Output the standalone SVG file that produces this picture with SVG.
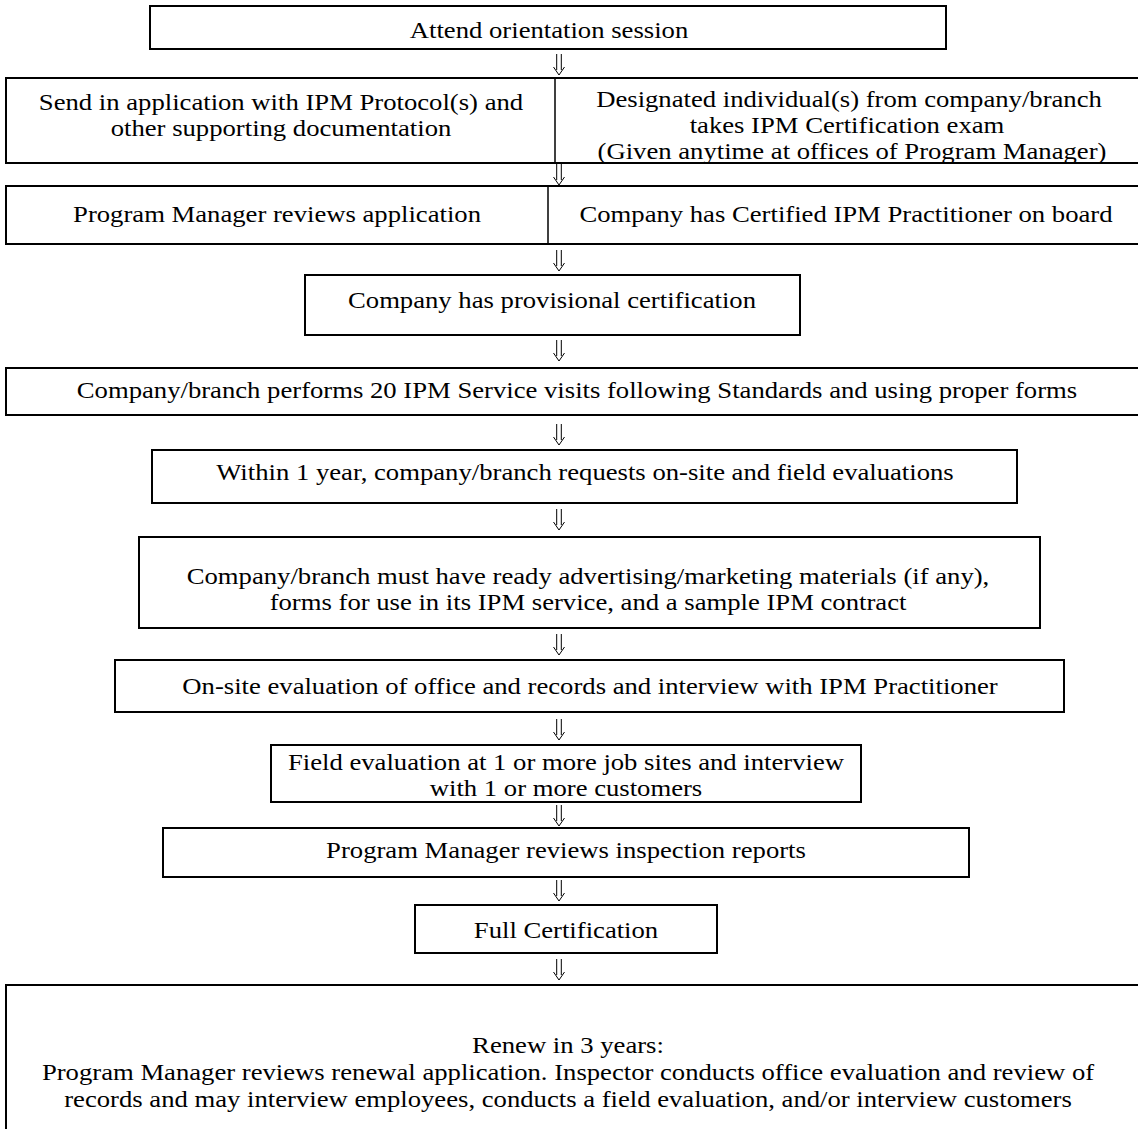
<svg xmlns="http://www.w3.org/2000/svg" xmlns:xlink="http://www.w3.org/1999/xlink" width="1138" height="1129" viewBox="0 0 1138 1129">
<style>
.box{fill:#fff;stroke:#000;stroke-width:2}
.div{stroke:#000;stroke-width:1.5}
.t{font-family:"Liberation Serif","Times New Roman",serif;font-size:23.5px;fill:#000;text-anchor:middle}
.arr{fill:none;stroke:#000;stroke-width:1}
</style>
<defs>
<path id="dArrow" class="arr" d="M-2.3,0 V16 M2.3,0 V16 M-5.5,13 L0,21 L5.5,13"/>
</defs>
<rect width="1138" height="1129" fill="#fff"/>
<g id="connectors">
<use xlink:href="#dArrow" x="559" y="54"/>
<use xlink:href="#dArrow" x="559" y="164"/>
<use xlink:href="#dArrow" x="559" y="250"/>
<use xlink:href="#dArrow" x="559" y="340"/>
<use xlink:href="#dArrow" x="559" y="424"/>
<use xlink:href="#dArrow" x="559" y="509"/>
<use xlink:href="#dArrow" x="559" y="634"/>
<use xlink:href="#dArrow" x="559" y="719"/>
<use xlink:href="#dArrow" x="559" y="805"/>
<use xlink:href="#dArrow" x="559" y="880"/>
<use xlink:href="#dArrow" x="559" y="959"/>
</g>
<g id="n1">
<rect class="box" x="150" y="6" width="796" height="43"/>
<text class="t" transform="translate(549,38) scale(1.135,1)">Attend orientation session</text>
</g>
<g id="n2">
<rect class="box" x="6" y="78" width="1134" height="85"/>
<line class="div" x1="555" y1="78" x2="555" y2="163"/>
<text class="t" transform="translate(281,110) scale(1.135,1)">Send in application with IPM Protocol(s) and</text>
<text class="t" transform="translate(281,136) scale(1.135,1)">other supporting documentation</text>
<text class="t" transform="translate(849,107) scale(1.135,1)">Designated individual(s) from company/branch</text>
<text class="t" transform="translate(847,133) scale(1.135,1)">takes IPM Certification exam</text>
<text class="t" transform="translate(852,158.5) scale(1.135,1)">(Given anytime at offices of Program Manager)</text>
</g>
<g id="n3">
<rect class="box" x="6" y="186" width="1134" height="58"/>
<line class="div" x1="548" y1="186" x2="548" y2="244"/>
<text class="t" transform="translate(277,222) scale(1.135,1)">Program Manager reviews application</text>
<text class="t" transform="translate(846,222) scale(1.135,1)">Company has Certified IPM Practitioner on board</text>
</g>
<g id="n4">
<rect class="box" x="305" y="275" width="495" height="60"/>
<text class="t" transform="translate(552,308) scale(1.135,1)">Company has provisional certification</text>
</g>
<g id="n5">
<rect class="box" x="6" y="368" width="1134" height="47"/>
<text class="t" transform="translate(577,398) scale(1.135,1)">Company/branch performs 20 IPM Service visits following Standards and using proper forms</text>
</g>
<g id="n6">
<rect class="box" x="152" y="450" width="865" height="53"/>
<text class="t" transform="translate(585,480) scale(1.135,1)">Within 1 year, company/branch requests on-site and field evaluations</text>
</g>
<g id="n7">
<rect class="box" x="139" y="537" width="901" height="91"/>
<text class="t" transform="translate(588,584) scale(1.135,1)">Company/branch must have ready advertising/marketing materials (if any),</text>
<text class="t" transform="translate(588,610) scale(1.135,1)">forms for use in its IPM service, and a sample IPM contract</text>
</g>
<g id="n8">
<rect class="box" x="115" y="660" width="949" height="52"/>
<text class="t" transform="translate(590,694) scale(1.135,1)">On-site evaluation of office and records and interview with IPM Practitioner</text>
</g>
<g id="n9">
<rect class="box" x="271" y="745" width="590" height="57"/>
<text class="t" transform="translate(566,770) scale(1.135,1)">Field evaluation at 1 or more job sites and interview</text>
<text class="t" transform="translate(566,796) scale(1.135,1)">with 1 or more customers</text>
</g>
<g id="n10">
<rect class="box" x="163" y="828" width="806" height="49"/>
<text class="t" transform="translate(566,858) scale(1.135,1)">Program Manager reviews inspection reports</text>
</g>
<g id="n11">
<rect class="box" x="415" y="905" width="302" height="48"/>
<text class="t" transform="translate(566,938) scale(1.135,1)">Full Certification</text>
</g>
<g id="n12">
<rect class="box" x="6" y="985" width="1134" height="160"/>
<text class="t" transform="translate(568,1053) scale(1.135,1)">Renew in 3 years:</text>
<text class="t" transform="translate(568,1080) scale(1.135,1)">Program Manager reviews renewal application. Inspector conducts office evaluation and review of</text>
<text class="t" transform="translate(568,1107) scale(1.135,1)">records and may interview employees, conducts a field evaluation, and/or interview customers</text>
</g>
</svg>
